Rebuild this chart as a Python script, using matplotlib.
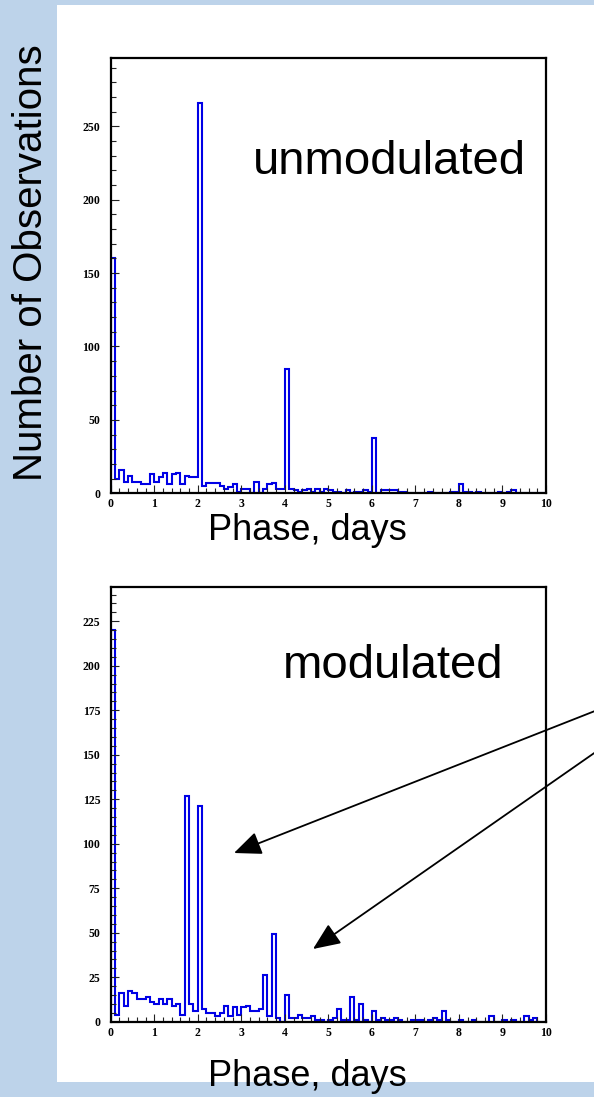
import numpy as np
import matplotlib
matplotlib.use("Agg")
import matplotlib.pyplot as plt
from matplotlib.patches import Rectangle, FancyArrowPatch
from matplotlib.ticker import MultipleLocator

# ---- data (counts per 0.1-day phase bin, 0..10 days) ----
phase_edges = np.round(np.arange(0, 10.01, 0.1), 2)
unmodulated = [160, 10, 16, 8, 12, 8, 8, 6, 6, 13,
               8, 11, 14, 6, 13, 14, 6, 12, 11, 11,
               266, 5, 7, 7, 7, 5, 3, 4, 6, 1,
               3, 3, 0, 8, 0, 3, 6, 7, 3, 3,
               85, 3, 2, 1, 2, 3, 1, 3, 1, 3,
               2, 1, 1, 0, 2, 0, 1, 1, 2, 1,
               38, 0, 2, 2, 2, 2, 1, 1, 0, 0,
               0, 0, 0, 1, 0, 0, 0, 0, 1, 1,
               6, 1, 1, 0, 1, 0, 0, 0, 0, 1,
               0, 1, 2, 0, 0, 0, 0, 0, 0, 0]
modulated = [220, 4, 16, 9, 17, 16, 13, 13, 14, 11,
             10, 13, 10, 13, 9, 10, 4, 127, 10, 6,
             121, 7, 5, 5, 3, 5, 9, 3, 8, 4,
             8, 9, 6, 6, 7, 26, 3, 49, 2, 0,
             15, 2, 2, 4, 2, 2, 3, 1, 1, 0,
             1, 2, 7, 1, 1, 14, 1, 10, 1, 0,
             6, 1, 2, 1, 1, 2, 1, 0, 0, 1,
             1, 1, 0, 1, 2, 1, 6, 1, 0, 0,
             1, 0, 0, 1, 0, 0, 0, 3, 0, 0,
             1, 0, 1, 0, 0, 3, 1, 2, 0, 0]
x_ticks = list(range(0, 11))
top_yticks = [0, 50, 100, 150, 200, 250]
bot_yticks = [0, 25, 50, 75, 100, 125, 150, 175, 200, 225]

W, H = 594, 1097
fig = plt.figure(figsize=(W / 100, H / 100), dpi=100)
fig.patch.set_facecolor('#bdd3ea')


def fx(x):
    return x / W


def fy(y):
    return 1 - y / H


# white panel
fig.patches.append(Rectangle((fx(57), fy(1082)), fx(594) - fx(57) + 0.01, fy(5) - fy(1082),
                             transform=fig.transFigure, facecolor='white', edgecolor='none', zorder=-5))

tick_font = dict(family='Liberation Serif', weight='bold', size=8.5)


def make_axes(top_px, bottom_px, values, ymax, yticks, yminor):
    left_px, right_px = 110.7, 546
    ax = fig.add_axes([fx(left_px), fy(bottom_px), fx(right_px) - fx(left_px), fy(top_px) - fy(bottom_px)])
    ax.stairs(values, phase_edges, color='#0000e6', lw=1.5)
    ax.set_xlim(0, 10)
    ax.set_ylim(0, ymax)
    ax.set_xticks(x_ticks)
    ax.set_yticks(yticks)
    ax.xaxis.set_minor_locator(MultipleLocator(0.2))
    ax.yaxis.set_minor_locator(MultipleLocator(yminor))
    ax.tick_params(which='both', direction='in', top=False, right=False, color='#222222', width=0.8)
    ax.tick_params(which='major', length=6)
    ax.tick_params(which='minor', length=3.3)
    ax.tick_params(axis='y', which='major', pad=7.5)
    ax.tick_params(axis='x', which='major', pad=3.5)
    for lab in ax.get_xticklabels() + ax.get_yticklabels():
        lab.set_fontfamily(tick_font['family'])
        lab.set_fontweight('bold')
        lab.set_fontsize(tick_font['size'])
    for s in ax.spines.values():
        s.set_linewidth(1.6)
        s.set_color('black')
    ax.set_facecolor('white')
    return ax


ax1 = make_axes(58.3, 493.3, unmodulated, 296.3, top_yticks, 10)
ax2 = make_axes(586.7, 1021.7, modulated, 244.4, bot_yticks, 5)

sans = 'Liberation Sans'
fig.text(fx(253), fy(174), 'unmodulated', family=sans, fontsize=34, ha='left', va='baseline')
fig.text(fx(283), fy(678), 'modulated', family=sans, fontsize=34, ha='left', va='baseline')
fig.text(fx(307), fy(531), 'Phase, days', family=sans, fontsize=26, ha='center', va='center')
fig.text(fx(307), fy(1077), 'Phase, days', family=sans, fontsize=26, ha='center', va='center')
fig.text(fx(31), fy(263), 'Number of Observations', family=sans, fontsize=29, rotation=90,
         ha='center', va='center')

for (x0, y0), (x1, y1) in [((600, 709), (234, 853)), ((600, 749), (313, 949))]:
    arr = FancyArrowPatch((fx(x0), fy(y0)), (fx(x1), fy(y1)), transform=fig.transFigure,
                          arrowstyle='-|>,head_length=1.4,head_width=0.6', mutation_scale=12,
                          color='black', lw=1.3, shrinkA=0, shrinkB=0, zorder=5)
    fig.patches.append(arr)

fig.savefig('out.png', dpi=100)
